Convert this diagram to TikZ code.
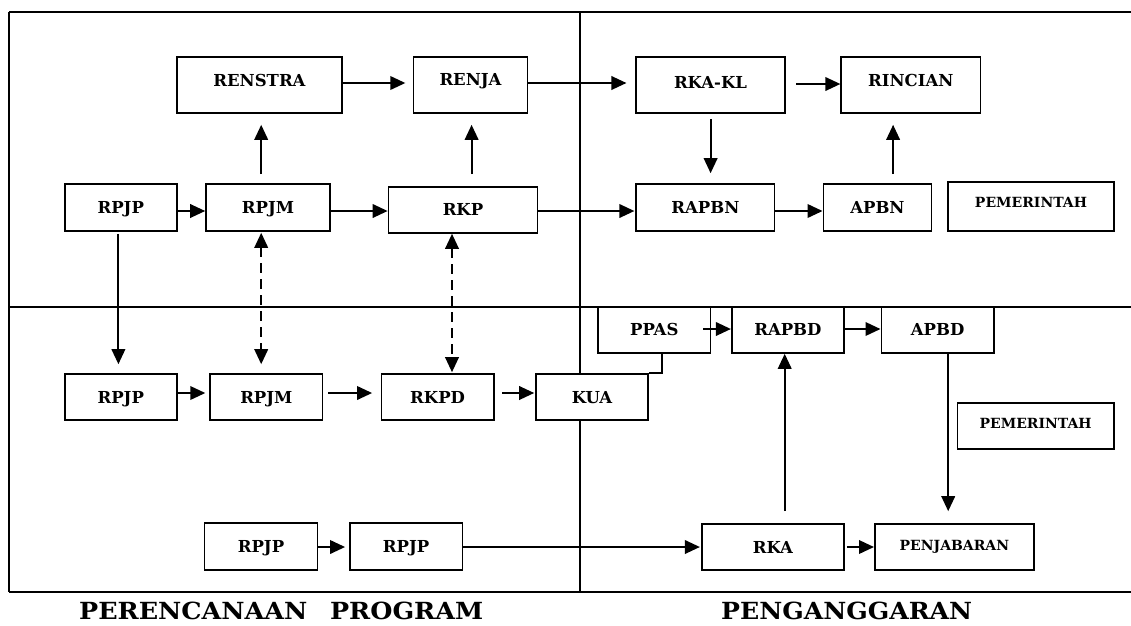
\documentclass[tikz,border=0pt]{standalone}
\usepackage{fontspec}
\setmainfont{DejaVu Serif}
\usetikzlibrary{arrows.meta}
\tikzset{
  frame/.style={line width=2pt},
  pbox/.style={draw, fill=white, line width=1.6pt, inner sep=0pt,
    font=\fontsize{16.5}{20}\selectfont\bfseries, text height=12pt},
  sbox/.style={pbox, font=\fontsize{14}{17}\selectfont\bfseries, text height=10.2pt},
  arr/.style={line width=2pt, -{Triangle[length=15pt,width=13.5pt]}},
  darr/.style={line width=2pt, dash pattern=on 10pt off 6pt,
    {Triangle[length=15pt,width=13.5pt]}-{Triangle[length=15pt,width=13.5pt]}},
  conn/.style={line width=2pt},
  ttl/.style={inner sep=0pt, anchor=base west, font=\bfseries}
}
\begin{document}
\begin{tikzpicture}[x=1pt,y=-1pt]
\useasboundingbox (0,0) rectangle (1131,625);
% frame
\draw[frame] (9,12) -- (1131,12);
\draw[frame] (9,307) -- (1131,307);
\draw[frame] (9,592) -- (1131,592);
\draw[frame] (9,12) -- (9,592);
\draw[frame] (580,12) -- (580,592);
% top-left
\node[pbox, minimum width=165.4pt, minimum height=56pt, text depth=10pt] (renstra) at (259.5,85) {RENSTRA};
\node[pbox, minimum width=113.9pt, minimum height=56pt, text depth=12pt] (renja) at (470.5,85) {RENJA};
\node[pbox, minimum width=112.1pt, minimum height=47pt, text depth=1pt] (rpjpA) at (120.75,207.5) {RPJP};
\node[pbox, minimum width=124pt, minimum height=47pt, text depth=1pt] (rpjmA) at (268,207.5) {RPJM};
\node[pbox, minimum width=149.1pt, minimum height=46pt, text depth=2pt] (rkp) at (463,210) {RKP};
% top-right
\node[pbox, minimum width=148.5pt, minimum height=56pt, text depth=6pt] (rkakl) at (710.5,85) {RKA-KL};
\node[pbox, minimum width=139.2pt, minimum height=56pt, text depth=10pt] (rincian) at (910.8,85) {RINCIAN};
\node[pbox, minimum width=138.4pt, minimum height=47pt, text depth=1pt] (rapbn) at (705.4,207.5) {RAPBN};
\node[pbox, minimum width=108.1pt, minimum height=47pt, text depth=1pt] (apbn) at (877.4,207.5) {APBN};
\node[sbox, minimum width=165.6pt, minimum height=49pt, text depth=8pt] (pemA) at (1031,206.5) {PEMERINTAH};
% bottom-left
\node[pbox, minimum width=112.1pt, minimum height=46pt, text depth=0pt] (rpjpB) at (120.75,397) {RPJP};
\node[pbox, minimum width=112.5pt, minimum height=46pt, text depth=0pt] (rpjmB) at (266.35,397) {RPJM};
\node[pbox, minimum width=112.4pt, minimum height=46pt, text depth=0pt] (rkpd) at (437.6,397) {RKPD};
\node[pbox, minimum width=112pt, minimum height=46pt, text depth=0pt] (kua) at (592,397) {KUA};
\node[pbox, minimum width=112.8pt, minimum height=47pt, text depth=1pt] (rpjpC) at (261,546.5) {RPJP};
\node[pbox, minimum width=112.5pt, minimum height=47pt, text depth=1pt] (rpjpD) at (406.15,546.5) {RPJP};
% bottom-right
\node[pbox, minimum width=112.7pt, minimum height=46pt, text depth=2pt] (ppas) at (654.25,330) {PPAS};
\node[pbox, minimum width=112.4pt, minimum height=46pt, text depth=2pt] (rapbd) at (787.9,330) {RAPBD};
\node[pbox, minimum width=112.7pt, minimum height=46pt, text depth=2pt] (apbd) at (937.65,330) {APBD};
\node[sbox, minimum width=156.3pt, minimum height=46pt, text depth=6pt] (pemB) at (1035.65,426) {PEMERINTAH};
\node[pbox, minimum width=142.4pt, minimum height=46pt, text depth=0pt] (rka) at (772.9,547) {RKA};
\node[sbox, minimum width=159.2pt, minimum height=46pt, text depth=4pt] (penj) at (954.4,547) {PENJABARAN};
% connectors
\draw[arr, shorten >=7.4pt] (renstra.east |- 0,83) -- (renja.west |- 0,83);
\draw[arr, shorten >=9pt] (renja.east |- 0,83) -- (rkakl.west |- 0,83);
\draw[arr, shorten <=10.7pt] (rkakl.east |- 0,84) -- (rincian.west |- 0,84);
\draw[arr, shorten <=9pt, shorten >=11pt] (rpjmA.north -| 261.2,0) -- (renstra.south -| 261.2,0);
\draw[arr, shorten <=12pt, shorten >=11pt] (rkp.north -| 471.6,0) -- (renja.south -| 471.6,0);
\draw[arr] (rpjpA.east |- 0,211) -- (rpjmA.west |- 0,211);
\draw[arr] (rpjmA.east |- 0,211) -- (rkp.west |- 0,211);
\draw[arr, shorten >=1pt] (rkp.east |- 0,211) -- (rapbn.west |- 0,211);
\draw[arr, shorten <=5pt, shorten >=10pt] (rkakl.south -| 710.6,0) -- (rapbn.north -| 710.6,0);
\draw[arr] (rapbn.east |- 0,211) -- (apbn.west |- 0,211);
\draw[arr, shorten <=9pt, shorten >=11pt] (apbn.north -| 893.1,0) -- (rincian.south -| 893.1,0);
\draw[arr, shorten <=2pt, shorten >=9pt] (rpjpA.south -| 118.4,0) -- (rpjpB.north -| 118.4,0);
\draw[darr, shorten <=1pt, shorten >=9pt] (rpjmA.south -| 261.2,0) -- (rpjmB.north -| 261.2,0);
\draw[darr, shorten >=1pt] (rkp.south -| 452,0) -- (rkpd.north -| 452,0);
\draw[arr, shorten >=4pt] (rpjpB.east |- 0,393) -- (rpjmB.west |- 0,393);
\draw[arr, shorten <=4.8pt, shorten >=8.5pt] (rpjmB.east |- 0,393) -- (rkpd.west |- 0,393);
\draw[arr, shorten <=7.4pt, shorten >=1pt] (rkpd.east |- 0,393) -- (kua.west |- 0,393);
\draw[arr, shorten <=-8.2pt] (ppas.east |- 0,329) -- (rapbd.west |- 0,329);
\draw[arr] (rapbd.east |- 0,329) -- (apbd.west |- 0,329);
\draw[arr, shorten >=12pt] (apbd.south -| 948.2,0) -- (penj.north -| 948.2,0);
\draw[arr, shorten <=12pt] (rka.north -| 784.7,0) -- (rapbd.south -| 784.7,0);
\draw[arr, shorten <=2pt] (rka.east |- 0,547) -- (penj.west |- 0,547);
\draw[arr, shorten >=4pt] (rpjpC.east |- 0,547) -- (rpjpD.west |- 0,547);
\draw[arr, shorten >=1pt] (rpjpD.east |- 0,547) -- (rka.west |- 0,547);
\draw[conn] (ppas.south -| 661.5,0) |- (kua.north east);
% titles
\node[ttl] (t1) at (79,619.5) {\resizebox{404pt}{17.5pt}{PERENCANAAN\hspace{0.9em}PROGRAM}};
\node[ttl] (t2) at (721,619.5) {\resizebox{251pt}{17.5pt}{PENGANGGARAN}};
\end{tikzpicture}
\end{document}
